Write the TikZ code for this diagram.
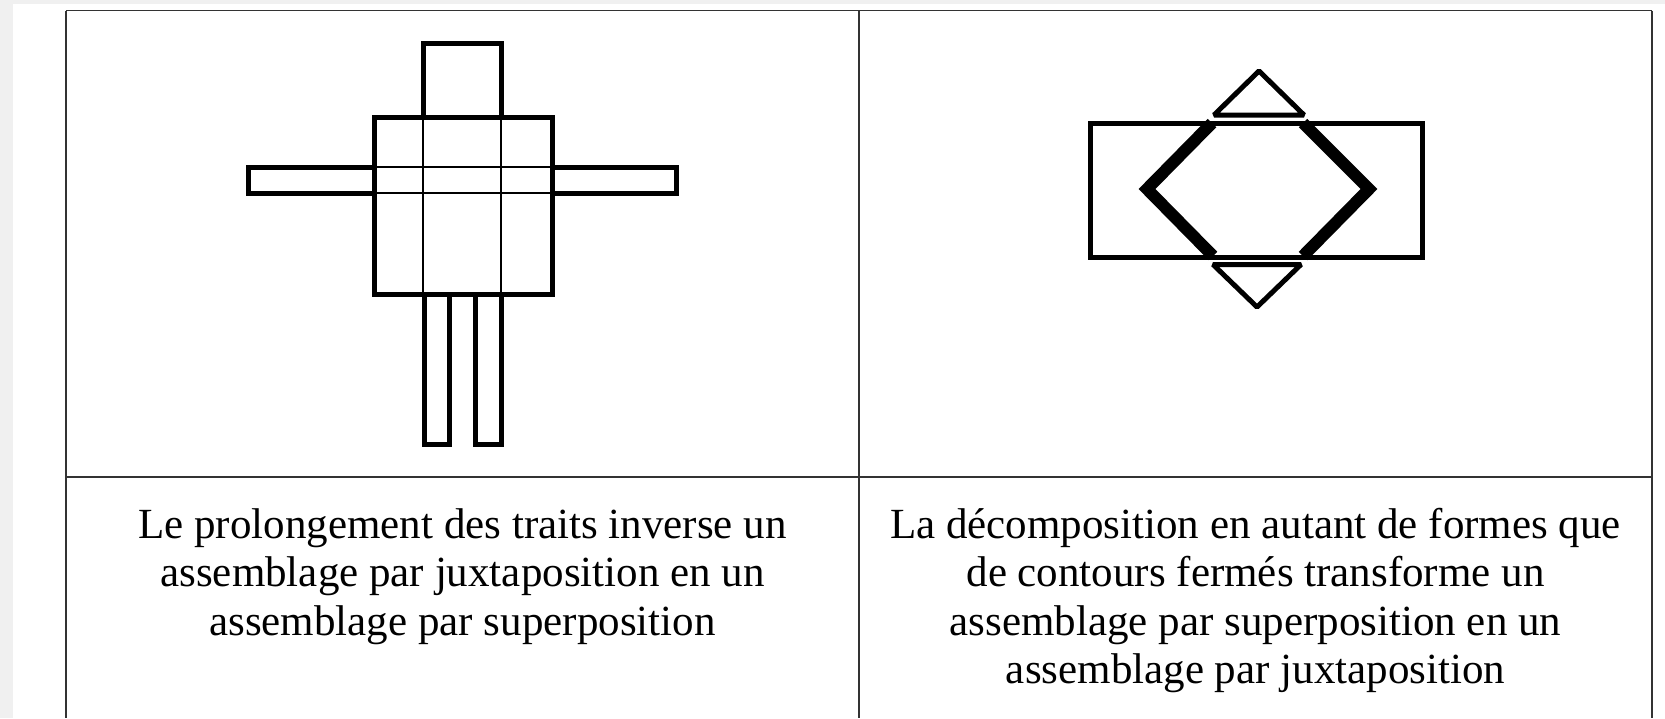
\documentclass[tikz,border=0pt]{standalone}
\usepackage{fontspec}
\setmainfont{Liberation Serif}
\definecolor{pagebg}{HTML}{F0F0F0}
\begin{document}
\begin{tikzpicture}[x=1pt,y=-1pt,
  grid/.style={draw=black!80, line width=1.5pt},
  outline/.style={draw=black, line width=5pt, line join=miter},
  fine/.style={draw=black, line width=2pt},
  heavy/.style={draw=black, line width=12pt, line join=miter},
  tri/.style={draw=black, line width=5pt, line join=bevel},
  caption/.style={font=\fontsize{43}{48.5}\selectfont, anchor=base, inner sep=0pt}]
\useasboundingbox (0,0) rectangle (1665,718);
\fill[pagebg] (0,0) rectangle (1665,718);
\fill[white] (13,4) rectangle (1665,718);
% table
\draw[grid] (66,10.6) -- (1652,10.6);
\draw[grid] (66,10.6) -- (66,718);
\draw[grid] (859,10.6) -- (859,718);
\draw[grid] (1652,10.6) -- (1652,718);
\draw[grid] (66,477) -- (1652,477);
% left figure: thin prolonged lines
\draw[fine] (423,117) -- (423,294);
\draw[fine] (501,117) -- (501,294);
\draw[fine] (374,167) -- (552,167);
\draw[fine] (374,193) -- (552,193);
% left figure: thick outlines
\draw[outline] (423,43) rectangle (501,117);
\draw[outline] (374,117) rectangle (552,294);
\draw[outline] (374,167) -- (248,167) -- (248,193) -- (374,193);
\draw[outline] (552,167) -- (676,167) -- (676,193) -- (552,193);
\draw[outline] (424,294) -- (424,444) -- (449,444) -- (449,292);
\draw[outline] (475,292) -- (475,444) -- (501,444) -- (501,294);
% right figure
\draw[outline] (1090,123) rectangle (1422,257);
\draw[heavy] (1212,123) -- (1147,189) -- (1213,256);
\draw[heavy] (1303,123) -- (1369,189) -- (1303,256);
\draw[tri] (1214,115) -- (1259,71) -- (1304,115) -- cycle;
\draw[tri] (1213,264.5) -- (1257,307) -- (1301,264.5) -- cycle;
% captions
\node[caption] (l1) at (462.5,538) {Le prolongement des traits inverse un};
\node[caption] (l2) at (462.5,586.5) {assemblage par juxtaposition en un};
\node[caption] (l3) at (462.5,635) {assemblage par superposition};
\node[caption] (r1) at (1255.5,538) {La décomposition en autant de formes que};
\node[caption] (r2) at (1255.5,586.5) {de contours fermés transforme un};
\node[caption] (r3) at (1255.5,635) {assemblage par superposition en un};
\node[caption] (r4) at (1255.5,683.5) {assemblage par juxtaposition};
\end{tikzpicture}
\end{document}
